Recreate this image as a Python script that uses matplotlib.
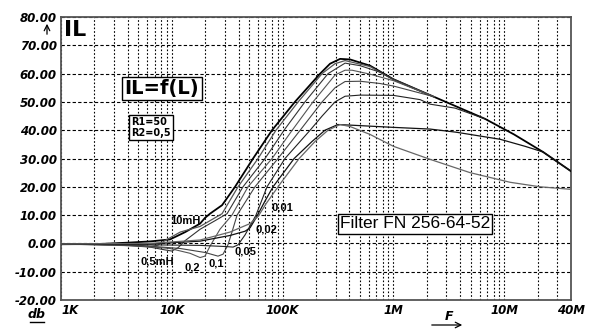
import numpy as np
import matplotlib.pyplot as plt
from matplotlib.lines import Line2D
from matplotlib.ticker import FixedLocator, LogLocator, NullFormatter

W, H = 595, 332

# insertion loss IL (dB) vs frequency (kHz), one pair of lists per inductance
f_10mH = [1.0, 2.25, 4.2, 6.36, 9.63, 13.2, 18.0, 19.9, 22.1, 28.4, 37.2, 54.1, 80.2, 129, 218, 268,
          330, 406, 615, 1000, 2320, 6710, 12250, 22390, 40000]
il_10mH = [-0.3, -0.2, 0.3, 0.7, 1.4, 4.0, 7.0, 9.0, 10.5, 13.5, 20.0, 30.0, 40.0, 50.0, 60.0, 63.5,
           65.2, 65.0, 62.8, 58.0, 51.8, 44.0, 38.5, 32.3, 25.5]

f_1mH = [1.0, 3.41, 5.16, 6.36, 7.5, 8.68, 11.9, 18.0, 28.4, 39.6, 60.0, 87.1, 138, 227, 297, 366,
         615, 1000, 2320]
il_1mH = [-0.3, -0.5, -0.9, -1.2, -0.6, 1.0, 4.0, 6.0, 10.5, 20.0, 30.0, 40.0, 50.0, 60.0, 63.5, 64.6,
          62.5, 57.8, 51.8]

f_05mH = [1.0, 2.25, 4.2, 6.36, 8.68, 10.0, 11.4, 13.2, 18.0, 24.5, 31.5, 43.9, 69.4, 103, 159, 257,
          366, 500, 757, 1000, 2320]
il_05mH = [-0.2, -0.4, -0.8, -1.3, -2.3, -2.7, -1.5, 1.0, 5.0, 8.0, 10.5, 20.0, 30.0, 40.0, 50.0, 60.0,
           63.7, 62.8, 60.5, 58.0, 51.8]

f_02 = [1.0, 5.16, 9.63, 14.6, 18.0, 19.9, 22.1, 27.2, 34.9, 48.7, 80.2, 122, 188, 297, 366, 423,
        615, 1000, 1740, 2320]
il_02 = [-0.2, -0.9, -1.8, -3.5, -5.0, -4.5, -1.0, 5.0, 10.0, 20.0, 30.0, 40.0, 50.0, 59.5, 61.2, 61.2,
         59.8, 57.5, 53.8, 51.8]

f_01 = [1.0, 5.16, 11.9, 19.9, 26.1, 29.0, 32.1, 34.9, 38.8, 56.3, 90.8, 144, 227, 297, 366, 500,
        757, 1000, 2140, 2320]
il_01 = [-0.2, -0.7, -1.8, -3.2, -4.5, -3.8, -0.5, 4.0, 10.0, 20.0, 30.0, 40.0, 50.0, 55.0, 57.2, 57.3,
         56.5, 55.6, 52.2, 51.8]

f_005 = [1.0, 6.36, 18.0, 30.2, 35.7, 39.6, 45.8, 57.5, 72.3, 105, 177, 227, 297, 366, 500, 1000,
         1740, 2140, 3600, 6710]
il_005 = [-0.2, -0.5, -0.7, -1.1, -1.3, -0.5, 3.0, 10.0, 20.0, 30.0, 40.0, 45.0, 50.0, 52.0, 52.4, 52.3,
          50.8, 49.2, 47.8, 44.0]

f_002 = [1.0, 6.36, 18.0, 33.5, 45.8, 50.8, 57.5, 69.4, 81.9, 127, 184, 241, 316, 406, 1000, 2140,
         3670, 9160, 15420, 22390, 40000]
il_002 = [-0.2, -0.2, 0.8, 2.8, 4.3, 5.5, 9.0, 15.0, 20.0, 30.0, 36.0, 40.0, 42.0, 41.8, 41.0, 40.4,
          39.3, 36.8, 34.3, 32.3, 25.5]

f_001 = [1.0, 6.36, 18.0, 33.5, 50.8, 60.0, 70.8, 94.8, 141, 196, 257, 330, 406, 615, 1000, 2140,
         4910, 11270, 21040, 40000]
il_001 = [-0.2, 0.0, 1.2, 4.0, 7.0, 9.5, 14.0, 21.0, 30.0, 36.0, 40.0, 42.0, 41.3, 38.5, 34.3, 29.7,
          25.0, 21.6, 20.0, 19.1]

curves = [
    (f_10mH, il_10mH, "black", 1.3),
    (f_1mH, il_1mH, "#555555", 0.9),
    (f_05mH, il_05mH, "#333333", 0.8),
    (f_02, il_02, "#555555", 0.8),
    (f_01, il_01, "#444444", 0.8),
    (f_005, il_005, "#222222", 0.8),
    (f_002, il_002, "#111111", 0.9),
    (f_001, il_001, "#666666", 0.9),
]

x_ticks = [1e3, 1e4, 1e5, 1e6, 1e7, 4e7]
x_labels = ["1K", "10K", "100K", "1M", "10M", "40M"]
y_ticks = [-20, -10, 0, 10, 20, 30, 40, 50, 60, 70, 80]
y_labels = ["-20.00", "-10.00", "0.00", "10.00", "20.00", "30.00",
            "40.00", "50.00", "60.00", "70.00", "80.00"]

curve_labels = ["10mH", "0,5mH", "0,2", "0,1", "0,05", "0,02", "0,01"]


def at(x, y):
    # pixel position in the 595x332 picture -> figure fraction
    return x / W, 1 - y / H


fig = plt.figure(figsize=(W / 100, H / 100), dpi=100)
ax = fig.add_axes([61 / W, 1 - 300 / H, 510 / W, 283 / H])

for f, il, col, lw in curves:
    ax.plot(np.array(f) * 1e3, il, color=col, lw=lw, zorder=3)

ax.set_xscale("log")
ax.set_xlim(1e3, 4e7)
ax.set_ylim(-20, 80)

ax.xaxis.set_major_locator(FixedLocator(x_ticks))
ax.set_xticklabels(x_labels)
ax.xaxis.set_minor_locator(LogLocator(base=10, subs=range(2, 10), numticks=20))
ax.xaxis.set_minor_formatter(NullFormatter())
ax.set_yticks(y_ticks)
ax.set_yticklabels(y_labels)

ax.tick_params(which="both", length=0)
ax.tick_params(axis="x", pad=3)
ax.tick_params(axis="y", pad=3)
for lab in ax.get_xticklabels() + ax.get_yticklabels():
    lab.set_fontsize(8.5)
    lab.set_fontweight("bold")
    lab.set_fontstyle("italic")
ax.get_xticklabels()[0].set_ha("left")

ax.set_axisbelow(True)
ax.grid(which="both", axis="x", color="black", lw=0.8, ls=(0, (1.5, 1.8)))
ax.grid(which="major", axis="y", color="black", lw=0.8, ls=(0, (3, 2)))
for sp in ax.spines.values():
    sp.set_color("#555555")
    sp.set_linewidth(1.3)

# texts
fig.text(*at(75, 30), "IL", fontsize=16, fontweight="bold", ha="center", va="center")
fig.text(*at(162, 88.5), "IL=f(L)", fontsize=14, fontweight="bold", ha="center", va="center",
         bbox=dict(boxstyle="square,pad=0.12", fc="white", ec="black", lw=1))
fig.text(*at(131, 127.5), "R1=50\nR2=0,5", fontsize=7, fontweight="bold", ha="left", va="center",
         linespacing=1.15, bbox=dict(boxstyle="square,pad=0.2", fc="white", ec="black", lw=1))
fig.text(*at(415, 224), "Filter FN 256-64-52", fontsize=12.5, family="Liberation Sans",
         ha="center", va="center",
         bbox=dict(boxstyle="square,pad=0.12", fc="white", ec="black", lw=1))

label_pos = [(185, 221.5), (157, 261), (192, 267), (216, 264), (245, 252), (266, 229), (282, 207.5)]
for s, (x, y) in zip(curve_labels, label_pos):
    fig.text(*at(x, y), s, fontsize=8, fontweight="bold", family="Liberation Sans",
             ha="center", va="center")

# axis names with arrows
ax.annotate("", xy=at(47, 21), xytext=at(47, 37), xycoords="figure fraction",
            textcoords="figure fraction", annotation_clip=False,
            arrowprops=dict(arrowstyle="->", lw=0.9, color="black"))
fig.text(*at(37, 314), "db", fontsize=9, fontweight="bold", fontstyle="italic", ha="center", va="center")
fig.add_artist(Line2D([30 / W, 44 / W], [1 - 322 / H, 1 - 322 / H], color="black", lw=1,
                      transform=fig.transFigure))
fig.text(*at(449, 316), "F", fontsize=9, fontweight="bold", fontstyle="italic", ha="center", va="center")
ax.annotate("", xy=at(465, 325), xytext=at(429, 325), xycoords="figure fraction",
            textcoords="figure fraction", annotation_clip=False,
            arrowprops=dict(arrowstyle="->", lw=0.9, color="black"))

fig.savefig("out.png", dpi=100)
